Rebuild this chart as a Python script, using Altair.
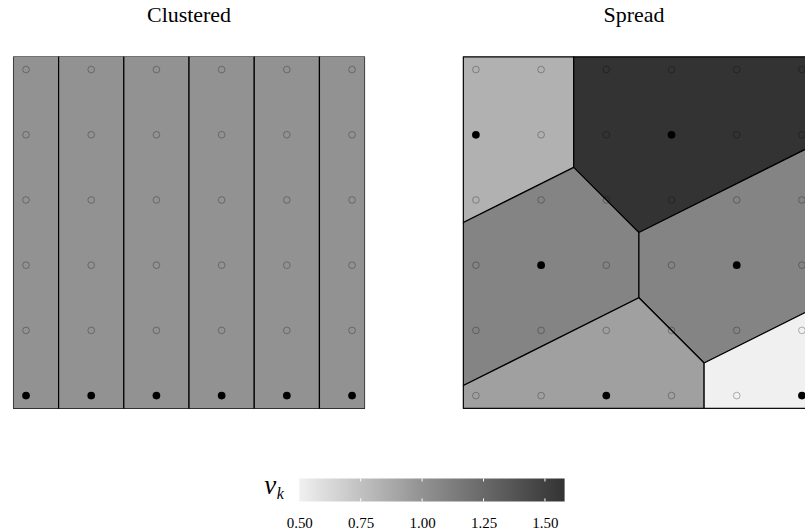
import altair as alt
import pandas as pd

# ---------------- data ----------------
grid_cols = [0, 1, 2, 3, 4, 5]
grid_rows = [0, 1, 2, 3, 4, 5]          # 0 = top row

panel_titles = ["Clustered", "Spread"]

clustered_site_cols = [0, 1, 2, 3, 4, 5]
clustered_site_rows = [5, 5, 5, 5, 5, 5]
clustered_v = [1.00, 1.00, 1.00, 1.00, 1.00, 1.00]

spread_site_cols = [0, 3, 1, 4, 2, 5]
spread_site_rows = [1, 1, 3, 3, 5, 5]
spread_v = [0.83, 1.58, 1.08, 1.08, 0.92, 0.50]

colorbar_labels = [0.50, 0.75, 1.00, 1.25, 1.50]

# ---------------- styling / layout ----------------
MARGIN = 0.2
PANEL = 353
GAP = 98
PAGE_W = 806
PAD_L = 12
SERIF = "Liberation Serif"
scale_range = ["#f0f0f0", "#929292", "#333333"]

span = (max(grid_cols) - min(grid_cols)) + 2 * MARGIN
PX = PANEL / span
TR = MARGIN * PX

all_v = clustered_v + spread_v
vmin, vmax = min(all_v), max(all_v)
color_scale = alt.Scale(domain=[vmin, 1.0, vmax], range=scale_range)

LO_X, HI_X = min(grid_cols) - MARGIN, max(grid_cols) + MARGIN
LO_Y, HI_Y = min(grid_rows) - MARGIN, max(grid_rows) + MARGIN


def clip(poly, a, b, c):
    """keep the part of poly with a*x + b*y <= c"""
    out = []
    n = len(poly)
    for i in range(n):
        p, q = poly[i], poly[(i + 1) % n]
        fp = a * p[0] + b * p[1] - c
        fq = a * q[0] + b * q[1] - c
        if fp <= 0:
            out.append(p)
        if (fp < 0 < fq) or (fq < 0 < fp):
            t = fp / (fp - fq)
            out.append((p[0] + t * (q[0] - p[0]), p[1] + t * (q[1] - p[1])))
    return out


def square():
    return [(LO_X, LO_Y), (HI_X, LO_Y), (HI_X, HI_Y), (LO_X, HI_Y)]


def feature(poly, props):
    ring = [[float(x), float(y)] for x, y in poly]
    ring.append(ring[0])
    return {"type": "Feature",
            "geometry": {"type": "Polygon", "coordinates": [ring]},
            "properties": props}


def cells(site_cols, site_rows, v):
    sites = list(zip(site_cols, site_rows))
    feats = []
    for i, (sx, sy) in enumerate(sites):
        poly = square()
        for j, (tx, ty) in enumerate(sites):
            if j == i:
                continue
            a = 2 * (tx - sx)
            b = 2 * (ty - sy)
            c = (tx * tx + ty * ty) - (sx * sx + sy * sy)
            poly = clip(poly, a, b, c)
        feats.append(feature(poly, {"v": v[i]}))
    return feats


def panel(site_cols, site_rows, v, title, view_w, framed):
    site_set = set(zip(site_cols, site_rows))
    grid = pd.DataFrame([{"x": c, "y": r} for r in grid_rows for c in grid_cols
                         if (c, r) not in site_set])
    site_df = pd.DataFrame({"x": site_cols, "y": site_rows})

    poly = alt.Chart(alt.Data(values=cells(site_cols, site_rows, v))).mark_geoshape(
        stroke="black", strokeWidth=1.2, clip=True
    ).encode(color=alt.Color("properties.v:Q", scale=color_scale, legend=None))

    open_pts = alt.Chart(grid).mark_point(
        shape="circle", filled=False, color="black", strokeOpacity=0.4,
        strokeWidth=1, size=45, clip=True
    ).encode(longitude="x:Q", latitude="y:Q")

    site_pts = alt.Chart(site_df).mark_circle(
        color="black", size=60, opacity=1, clip=True
    ).encode(longitude="x:Q", latitude="y:Q")

    layers = [poly, open_pts, site_pts]
    props = dict(width=view_w, height=PANEL, title=title)
    if not framed:
        frame = alt.Chart(alt.Data(values=[feature(square(), {})])).mark_geoshape(
            filled=False, stroke="black", strokeWidth=2, clip=True
        )
        layers.append(frame)
        props["view"] = alt.ViewBackground(stroke="transparent")

    return alt.layer(*layers).project(
        type="identity", scale=PX, translate=[TR, TR]
    ).properties(**props)


left = panel(clustered_site_cols, clustered_site_rows, clustered_v,
             panel_titles[0], PANEL, True)
right_w = PAGE_W - PAD_L - PANEL - GAP
right = panel(spread_site_cols, spread_site_rows, spread_v,
              panel_titles[1], right_w, False)

# ---------------- colour bar ----------------
mid_off = (1.0 - vmin) / (vmax - vmin)
grad = alt.Gradient(
    gradient="linear",
    stops=[alt.GradientStop(offset=0, color=scale_range[0]),
           alt.GradientStop(offset=mid_off, color=scale_range[1]),
           alt.GradientStop(offset=1, color=scale_range[2])],
    x1=0, x2=1, y1=0, y2=0,
)
xs = alt.Scale(domain=[vmin, vmax], nice=False, zero=False)
cb_df = pd.DataFrame({"lo": [vmin], "hi": [vmax]})
bar = alt.Chart(cb_df).mark_rect(color=grad).encode(
    x=alt.X("lo:Q", scale=xs, title=None,
            axis=alt.Axis(values=colorbar_labels, format=".2f", domain=False,
                          ticks=False, grid=False, labelFlush=False,
                          labelOverlap=False, labelFont=SERIF, labelFontSize=15,
                          labelColor="black", labelPadding=14)),
    x2="hi:Q",
    y=alt.value(0), y2=alt.value(23),
)
tick_df = pd.DataFrame({"t": colorbar_labels[1:]})
tops = alt.Chart(tick_df).mark_rule(color="white", strokeWidth=1).encode(
    x=alt.X("t:Q", scale=xs), y=alt.value(0), y2=alt.value(3))
bots = alt.Chart(tick_df).mark_rule(color="white", strokeWidth=1).encode(
    x=alt.X("t:Q", scale=xs), y=alt.value(20), y2=alt.value(23))
cbar = alt.layer(bar, tops, bots).properties(
    width=266, height=23, view=alt.ViewBackground(stroke="transparent"))

sym_df = pd.DataFrame({"s": ["v"]})
sub_df = pd.DataFrame({"s": ["k"]})
v_txt = alt.Chart(sym_df).mark_text(
    font=SERIF, fontStyle="italic", fontSize=27, align="center",
    baseline="alphabetic", color="black"
).encode(text="s:N", x=alt.value(258), y=alt.value(16))
k_txt = alt.Chart(sub_df).mark_text(
    font=SERIF, fontStyle="italic", fontSize=16, align="center",
    baseline="alphabetic", color="black"
).encode(text="s:N", x=alt.value(268), y=alt.value(21))
lab = alt.layer(v_txt, k_txt).properties(
    width=287, height=23, view=alt.ViewBackground(stroke="transparent"))

top_row = alt.hconcat(left, right, spacing=GAP, bounds="flush")
bottom_row = alt.hconcat(lab, cbar, spacing=0, bounds="flush")

chart = alt.vconcat(top_row, bottom_row, spacing=62).configure(
    padding={"left": PAD_L, "top": 2, "right": 0, "bottom": 0},
    background="white",
).configure_view(stroke="black", strokeWidth=1).configure_title(
    font=SERIF, fontSize=22, fontWeight="normal", color="black",
    baseline="alphabetic", offset=30
)

chart.save("out.html", embed_options={"renderer": "svg", "actions": False})
